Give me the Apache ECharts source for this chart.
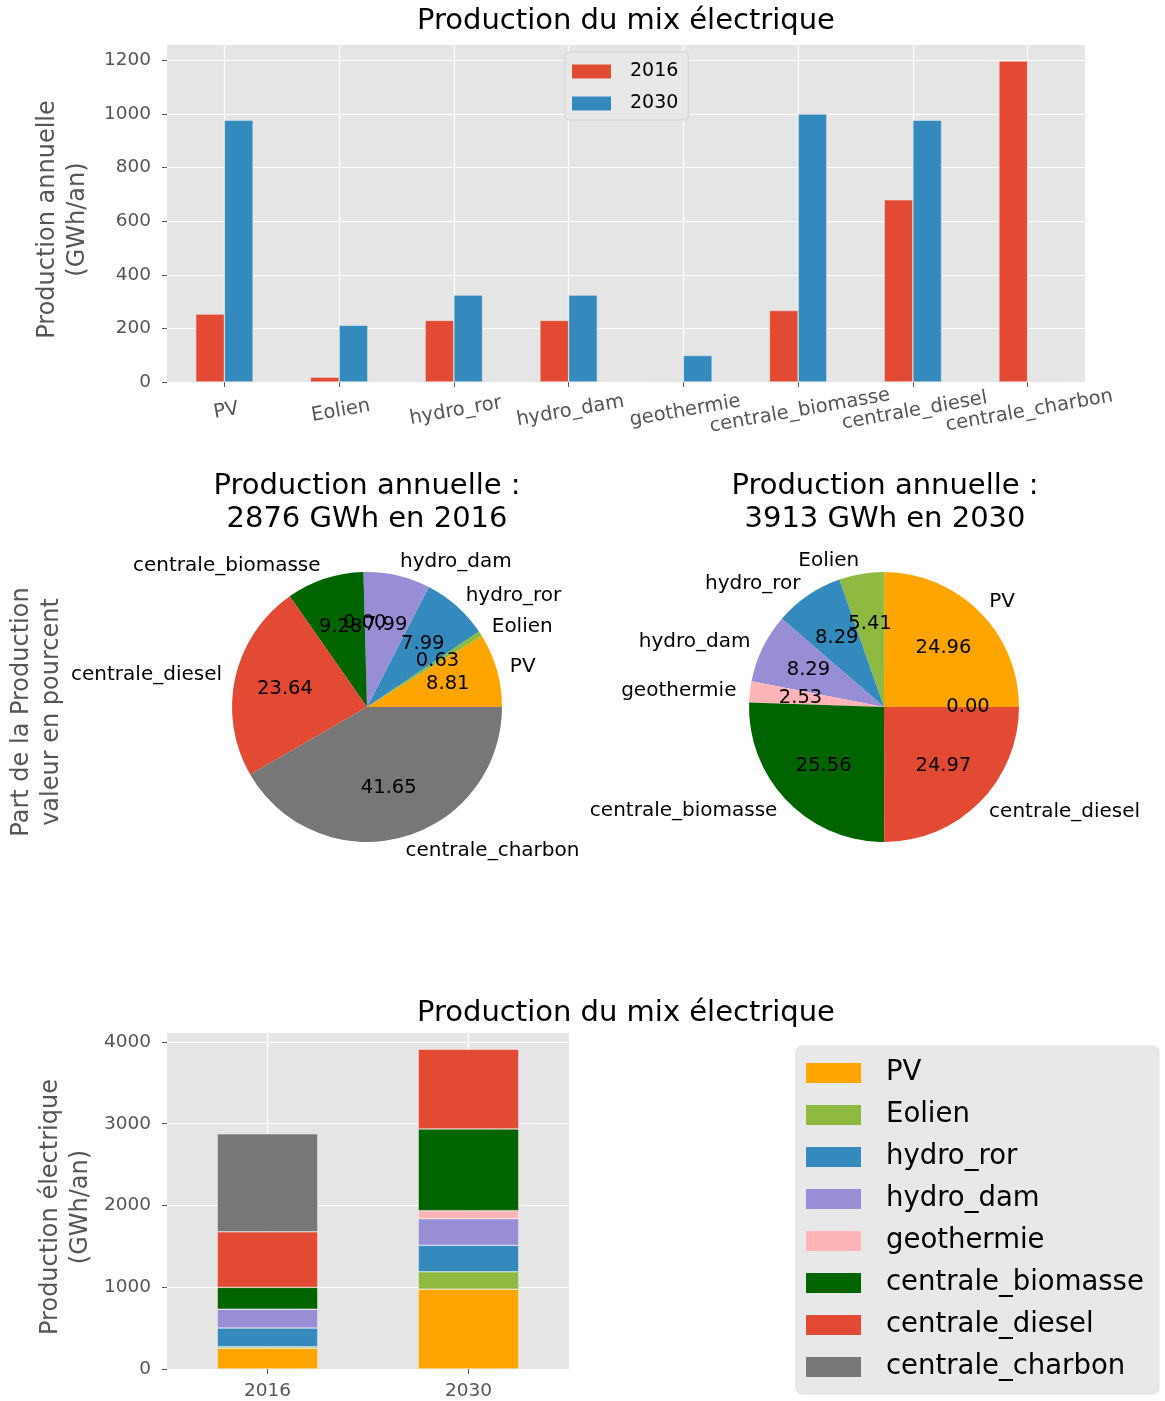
<!DOCTYPE html>
<html><head><meta charset="utf-8">
<script src="https://cdn.jsdelivr.net/npm/echarts@6/dist/echarts.min.js"></script>
<style>html,body{margin:0;padding:0;background:#fff}#c{width:1165px;height:1401px}</style>
</head><body><div id="c"></div>
<script>
// ---- data ----
const categories = ['PV','Eolien','hydro_ror','hydro_dam','geothermie','centrale_biomasse','centrale_diesel','centrale_charbon'];
const years = ['2016','2030'];
const prod2016 = [253.4, 18.1, 229.8, 229.8, 0, 266.9, 679.9, 1197.9];
const prod2030 = [976.7, 211.7, 324.4, 324.4, 99.0, 1000.2, 977.0, 0];
const topTicks = [0, 200, 400, 600, 800, 1000, 1200];
const bottomTicks = [0, 1000, 2000, 3000, 4000];
const categoryColors = ['#FFA500','#8EBA42','#348ABD','#988ED5','#FFB5B8','#006400','#E24A33','#777777'];
const yearColors = ['#E24A33','#348ABD'];

// ---- derived ----
const sum = a => a.reduce((s, v) => s + v, 0);
const total2016 = sum(prod2016), total2030 = sum(prod2030);
const FONT = 'DejaVu Sans';
const GRAY = '#555555';
const BG = '#E5E5E5';

const chart = echarts.init(document.getElementById('c'), null, {renderer: 'canvas'});

function pieSeries(name, cx, arr, total) {
  const data = categories.map((c, i) => ({name: c, value: arr[i], itemStyle: {color: categoryColors[i]}}));
  return [{
    type: 'pie', name: name, center: [cx, 707], radius: [0, 135],
    startAngle: 0, clockwise: false, avoidLabelOverlap: false, silent: true,
    label: {show: true, position: 'outside', distanceToLabelLine: 0, fontFamily: FONT, fontSize: 20, color: '#000',
      formatter: p => p.value > 0 ? p.name : ''},
    labelLine: {show: false, length: 13.5, length2: 0},
    labelLayout: {hideOverlap: false},
    emphasis: {disabled: true},
    data: data
  }, {
    type: 'pie', name: name + '_pct', center: [cx, 707], radius: [27, 135],
    startAngle: 0, clockwise: false, avoidLabelOverlap: false, silent: true,
    itemStyle: {color: 'rgba(0,0,0,0)'},
    label: {show: true, position: 'inside', fontFamily: FONT, fontSize: 19.5, color: '#000',
      formatter: p => (p.value / total * 100).toFixed(2)},
    labelLine: {show: false},
    labelLayout: {hideOverlap: false},
    emphasis: {disabled: true},
    data: categories.map((c, i) => ({name: c, value: arr[i], itemStyle: {color: 'rgba(0,0,0,0)'}}))
  }];
}

const titleStyle = {fontFamily: FONT, fontSize: 29, fontWeight: 'normal', color: '#000', lineHeight: 33};
const plainNum = v => String(v);
const yAxisCommon = {
  type: 'value', min: 0, axisLine: {show: false},
  axisTick: {show: true, length: 5, lineStyle: {color: GRAY}},
  axisLabel: {color: GRAY, fontFamily: FONT, fontSize: 18.5, margin: 16, formatter: plainNum},
  splitLine: {show: true, lineStyle: {color: '#fff', width: 1.2}},
  nameLocation: 'middle', nameRotate: 90,
  nameTextStyle: {color: GRAY, fontFamily: FONT, fontSize: 24, lineHeight: 30, padding: [0, 12, 0, 0]}
};

const option = {
  animation: false,
  backgroundColor: '#fff',
  textStyle: {fontFamily: FONT},
  title: [
    {text: 'Production du mix électrique', left: 626, top: 5, textAlign: 'center', padding: 0, textStyle: titleStyle},
    {text: 'Production annuelle :\n' + Math.round(total2016) + ' GWh en 2016', left: 367, top: 470, textAlign: 'center', padding: 0, textStyle: titleStyle},
    {text: 'Production annuelle :\n' + Math.round(total2030) + ' GWh en 2030', left: 885, top: 470, textAlign: 'center', padding: 0, textStyle: titleStyle},
    {text: 'Production du mix électrique', left: 626, top: 997, textAlign: 'center', padding: 0, textStyle: titleStyle}
  ],
  grid: [
    {left: 167, top: 45, width: 918, height: 337, show: true, backgroundColor: BG, borderWidth: 0},
    {left: 167, top: 1033, width: 402, height: 339, show: true, backgroundColor: BG, borderWidth: 0}
  ],
  xAxis: [
    {type: 'category', gridIndex: 0, data: categories, axisLine: {show: false},
     axisTick: {show: true, alignWithLabel: true, length: 5, lineStyle: {color: GRAY}},
     splitLine: {show: true, alignWithLabel: true, lineStyle: {color: '#fff', width: 1.2}},
     axisLabel: {interval: 0, rotate: 10, align: 'center', verticalAlign: 'top', color: GRAY, fontFamily: FONT, fontSize: 19.5, margin: 19}},
    {type: 'category', gridIndex: 1, data: years, axisLine: {show: false},
     axisTick: {show: true, alignWithLabel: true, length: 5, lineStyle: {color: GRAY}},
     splitLine: {show: true, alignWithLabel: true, lineStyle: {color: '#fff', width: 1.2}},
     axisLabel: {interval: 0, color: GRAY, fontFamily: FONT, fontSize: 18.5, margin: 13}}
  ],
  yAxis: [
    Object.assign({}, yAxisCommon, {gridIndex: 0, max: Math.max(...prod2016, ...prod2030) * 1.05, interval: 200,
      name: 'Production annuelle\n(GWh/an)', nameGap: 71,
      axisLabel: Object.assign({}, yAxisCommon.axisLabel, {customValues: topTicks}),
      axisTick: Object.assign({}, yAxisCommon.axisTick, {customValues: topTicks})}),
    Object.assign({}, yAxisCommon, {gridIndex: 1, max: Math.max(total2016, total2030) * 1.05, interval: 1000,
      name: 'Production électrique\n(GWh/an)', nameGap: 71,
      axisLabel: Object.assign({}, yAxisCommon.axisLabel, {customValues: bottomTicks}),
      axisTick: Object.assign({}, yAxisCommon.axisTick, {customValues: bottomTicks})})
  ],
  legend: [
    {data: years, orient: 'vertical', left: 565, top: 52, icon: 'rect', itemWidth: 39, itemHeight: 14, itemGap: 13,
     padding: [10, 10, 7, 7], backgroundColor: '#E8E8E8', borderColor: '#D0D0D0', borderWidth: 1, borderRadius: 4,
     selectedMode: false, itemStyle: {borderWidth: 0},
     textStyle: {fontFamily: FONT, fontSize: 19, color: '#000', padding: [0, 0, 0, 14]}},
    {data: categories, orient: 'vertical', left: 796, top: 1046, height: 345, icon: 'rect', itemWidth: 55, itemHeight: 20, itemGap: 14,
     padding: [13, 15, 13, 10], backgroundColor: '#E8E8E8', borderColor: '#DDDDDD', borderWidth: 1, borderRadius: 6,
     selectedMode: false, itemStyle: {borderWidth: 0},
     textStyle: {fontFamily: FONT, fontSize: 27.5, color: '#000', padding: [0, 0, 0, 20]}}
  ],
  graphic: [
    {type: 'text', x: 37, y: 712, rotation: Math.PI / 2, silent: true,
     style: {text: 'Part de la Production\nvaleur en pourcent', fill: GRAY, font: '24px "DejaVu Sans"', lineHeight: 30, align: 'center', verticalAlign: 'middle'}}
  ],
  series: [
    ...years.map((y, k) => ({
      type: 'bar', name: y, xAxisIndex: 0, yAxisIndex: 0, barWidth: '25%', barGap: '0%',
      itemStyle: {color: yearColors[k], borderColor: '#EEEEEE', borderWidth: 0.5},
      emphasis: {disabled: true},
      data: k === 0 ? prod2016 : prod2030
    })),
    ...pieSeries('pie2016', 367, prod2016, total2016),
    ...pieSeries('pie2030', 884, prod2030, total2030),
    ...categories.map((c, i) => ({
      type: 'bar', name: c, xAxisIndex: 1, yAxisIndex: 1, stack: 'total', barWidth: '50%',
      itemStyle: {color: categoryColors[i], borderColor: '#EEEEEE', borderWidth: 0.5},
      emphasis: {disabled: true},
      data: [prod2016[i], prod2030[i]]
    }))
  ]
};
chart.setOption(option);
</script>
</body></html>
